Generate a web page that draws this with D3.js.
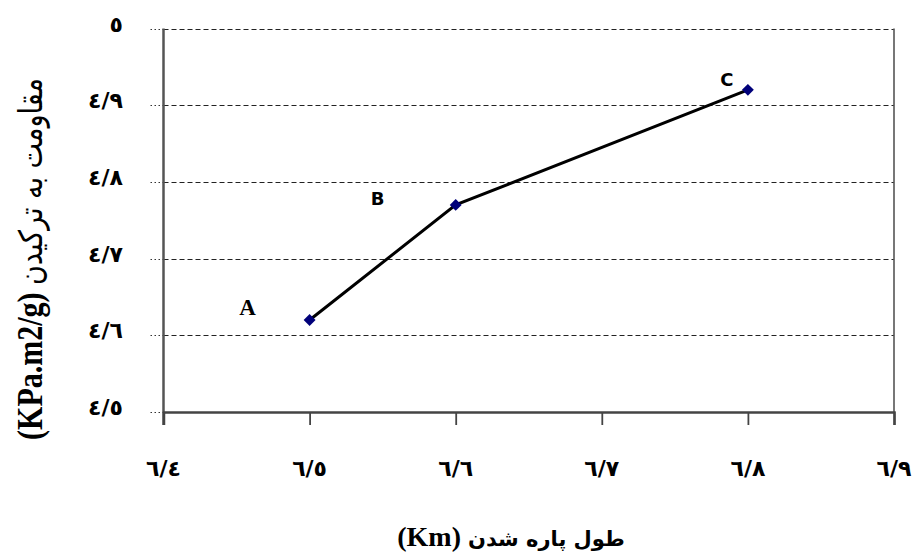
<!DOCTYPE html>
<html>
<head>
<meta charset="utf-8">
<script src="https://cdn.jsdelivr.net/npm/d3@7"></script>
<style>
  body { margin: 0; background: #fff; }
  svg { display: block; }
</style>
</head>
<body>
<svg id="chart" width="916" height="557"></svg>
<script>
// ---- data ----
const pointLabels = ["A", "B", "C"];
const xValues = [6.5, 6.6, 6.8];
const yValues = [4.62, 4.77, 4.92];
const xTicks = [6.4, 6.5, 6.6, 6.7, 6.8, 6.9];
const yTicks = [4.5, 4.6, 4.7, 4.8, 4.9, 5.0];
const xTickLabels = ["٦/٤", "٦/٥", "٦/٦", "٦/٧", "٦/٨", "٦/٩"];
const yTickLabels = ["٤/٥", "٤/٦", "٤/٧", "٤/٨", "٤/٩", "٥"];
const xTitleArabic = "طول پاره شدن";
const xTitleLatin = "(Km)";
const yTitleArabic = "مقاومت به ترکیدن";
const yTitleLatin = "(KPa.m2/g)";

const svg = d3.select("#chart");
const pLeft = 163.5, pRight = 894, pTop = 28.5, pBottom = 412;

const x = d3.scaleLinear().domain([6.4, 6.9]).range([pLeft, pRight]);
const y = d3.scaleLinear().domain([4.5, 5.0]).range([pBottom, pTop]);

// gridlines
svg.append("g").selectAll("line").data(yTicks.filter(d => d > 4.5)).join("line")
  .attr("x1", pLeft).attr("x2", pRight)
  .attr("y1", d => Math.round(y(d)) + 0.5).attr("y2", d => Math.round(y(d)) + 0.5)
  .attr("stroke", "#222").attr("stroke-width", 1.2).attr("stroke-dasharray", "5,3");

// dotted tick stubs left of y axis
svg.append("g").selectAll("line").data(yTicks).join("line")
  .attr("x1", pLeft - 13).attr("x2", pLeft)
  .attr("y1", d => Math.round(y(d)) + 0.5).attr("y2", d => Math.round(y(d)) + 0.5)
  .attr("stroke", "#333").attr("stroke-width", 1.2).attr("stroke-dasharray", "1.5,2.5");

// right border
svg.append("line").attr("x1", pRight).attr("x2", pRight).attr("y1", pTop).attr("y2", pBottom)
  .attr("stroke", "#555").attr("stroke-width", 1.6);

// y axis line
svg.append("line").attr("x1", pLeft).attr("x2", pLeft).attr("y1", pTop).attr("y2", pBottom + 13)
  .attr("stroke", "#555").attr("stroke-width", 2.5);

// x axis
const xAxis = d3.axisBottom(x).tickValues(xTicks).tickSize(13).tickFormat("");
const gx = svg.append("g").attr("transform", `translate(0,${pBottom})`).call(xAxis);
gx.select(".domain").attr("stroke", "#444").attr("stroke-width", 2.5);
gx.selectAll(".tick line").attr("stroke", "#444").attr("stroke-width", 1.8);

// x tick labels
svg.append("g").selectAll("text").data(xTicks).join("text")
  .attr("x", d => x(d)).attr("y", 476)
  .attr("text-anchor", "middle")
  .attr("font-family", "DejaVu Sans").attr("font-weight", "bold").attr("font-size", 22)
  .attr("direction", "ltr")
  .text((d, i) => xTickLabels[i]);

// y tick labels
svg.append("g").selectAll("text").data(yTicks).join("text")
  .attr("x", 123).attr("y", d => y(d) + 3)
  .attr("text-anchor", "end")
  .attr("font-family", "DejaVu Sans").attr("font-weight", "bold").attr("font-size", 22)
  .attr("direction", "ltr")
  .text((d, i) => yTickLabels[i]);

// line
const line = d3.line().x((d, i) => x(xValues[i])).y((d, i) => y(yValues[i]));
svg.append("path").datum(yValues).attr("d", line)
  .attr("fill", "none").attr("stroke", "#000").attr("stroke-width", 3);

// markers
svg.append("g").selectAll("path").data(yValues).join("path")
  .attr("d", d3.symbol().type(d3.symbolDiamond2).size(90))
  .attr("transform", (d, i) => `translate(${x(xValues[i])},${y(d)})`)
  .attr("fill", "#00007a");

// point labels
const labelStyle = [
  { dx: -62, dy: -5, family: "Liberation Serif", weight: "bold", size: 23 },
  { dx: -78, dy: 0, family: "DejaVu Sans", weight: "bold", size: 18 },
  { dx: -21, dy: -4, family: "DejaVu Sans", weight: "bold", size: 18 }
];
svg.append("g").selectAll("text").data(pointLabels).join("text")
  .attr("x", (d, i) => x(xValues[i]) + labelStyle[i].dx)
  .attr("y", (d, i) => y(yValues[i]) + labelStyle[i].dy)
  .attr("text-anchor", "middle")
  .attr("font-family", (d, i) => labelStyle[i].family)
  .attr("font-weight", (d, i) => labelStyle[i].weight)
  .attr("font-size", (d, i) => labelStyle[i].size)
  .text(d => d);

// x title
const xt = svg.append("text").attr("x", 511).attr("y", 546)
  .attr("text-anchor", "middle").attr("direction", "ltr");
xt.append("tspan").attr("font-family", "Liberation Serif").attr("font-weight", "bold")
  .attr("font-size", 28).text(xTitleLatin + " ");
xt.append("tspan").attr("font-family", "DejaVu Sans").attr("font-weight", "bold")
  .attr("font-size", 21).attr("direction", "rtl").attr("unicode-bidi", "embed").text(xTitleArabic);

// y title
const yt = svg.append("text").attr("transform", "translate(42,259) rotate(-90) scale(1,1.2)")
  .attr("text-anchor", "middle").attr("direction", "ltr");
yt.append("tspan").attr("font-family", "Liberation Serif").attr("font-weight", "bold")
  .attr("font-size", 30).text(yTitleLatin + " ");
yt.append("tspan").attr("font-family", "DejaVu Sans").attr("font-weight", "normal")
  .attr("font-size", 27).attr("direction", "rtl").attr("unicode-bidi", "embed").text(yTitleArabic);
</script>
</body>
</html>
